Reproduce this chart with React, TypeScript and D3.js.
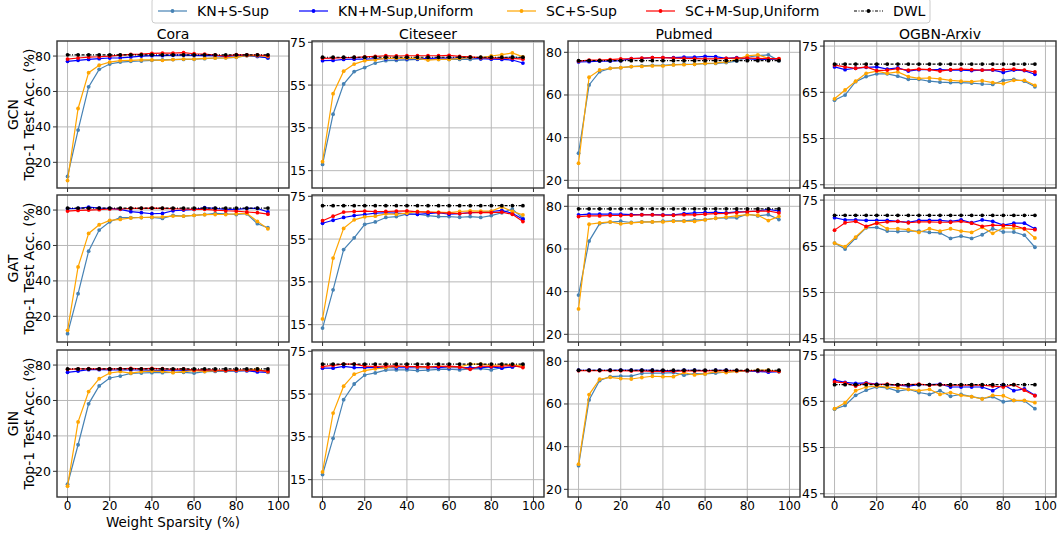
import * as d3 from "d3";

// sparsity levels on the x axis
const sparsity = [0, 5, 10, 15, 20, 25, 30, 35, 40, 45, 50, 55, 60, 65, 70, 75, 80, 85, 90, 95];

const datasets = ["Cora", "Citeseer", "Pubmed", "OGBN-Arxiv"];
const models = ["GCN", "GAT", "GIN"];
const seriesNames = ["KN+S-Sup", "KN+M-Sup,Uniform", "SC+S-Sup", "SC+M-Sup,Uniform", "DWL"];
const seriesColors = ["#4682b4", "#0000ff", "#ffa500", "#ff0000", "#000000"];

const xTicks = [0, 20, 40, 60, 80, 100];
const yTicks = [[20, 40, 60, 80], [15, 35, 55, 75], [20, 40, 60, 80], [45, 55, 65, 75]];
const yLimits = [[5.5, 88.5], [6.9, 75.6], [16.4, 85.3], [44.3, 76.1]];

// ---- GCN ----
const gcnCoraKnS = [12.0, 38.2, 62.6, 72.5, 75.5, 76.6, 77.0, 77.2, 77.6, 77.8, 78.0, 78.1, 78.2, 78.5, 78.9, 79.0, 79.3, 80.2, 79.8, 78.9];
const gcnCoraKnM = [77.0, 77.6, 78.1, 78.5, 78.9, 79.0, 79.4, 80.0, 80.2, 80.2, 80.5, 80.5, 80.4, 80.2, 80.2, 79.8, 80.2, 80.4, 79.8, 79.0];
const gcnCoraScS = [9.7, 50.4, 70.6, 74.8, 76.6, 77.4, 77.6, 77.8, 77.8, 77.6, 78.0, 78.3, 78.3, 78.7, 78.9, 79.0, 79.4, 80.3, 80.2, 79.8];
const gcnCoraScM = [78.3, 78.9, 79.4, 79.6, 80.0, 80.5, 80.9, 81.1, 81.5, 81.7, 81.7, 81.9, 81.3, 81.1, 80.6, 80.0, 80.8, 80.6, 80.6, 80.2];

const gcnCiteKnS = [17.9, 41.4, 55.5, 61.3, 63.2, 65.3, 66.4, 66.5, 66.8, 67.0, 67.0, 67.0, 67.0, 67.0, 67.0, 67.3, 67.6, 67.6, 68.2, 67.6];
const gcnCiteKnM = [66.4, 66.5, 67.0, 67.1, 67.1, 67.3, 67.3, 67.3, 67.3, 67.3, 67.5, 67.6, 67.6, 67.6, 67.8, 67.3, 67.1, 67.0, 66.7, 65.3];
const gcnCiteScS = [19.2, 51.0, 61.5, 64.8, 66.4, 66.8, 67.6, 67.5, 67.6, 67.5, 66.7, 67.0, 67.0, 67.5, 67.8, 67.9, 68.6, 69.2, 70.0, 68.2];
const gcnCiteScM = [67.5, 67.6, 67.8, 67.9, 68.2, 68.4, 68.7, 68.6, 68.7, 68.7, 68.7, 68.7, 68.9, 68.4, 68.2, 67.8, 67.6, 67.6, 67.5, 67.1];

const gcnPubKnS = [32.7, 64.7, 70.9, 72.5, 72.8, 73.3, 73.6, 73.9, 73.9, 74.2, 74.4, 74.4, 74.7, 74.8, 75.2, 75.9, 77.7, 78.4, 78.8, 76.1];
const gcnPubKnM = [75.5, 75.6, 75.9, 75.9, 76.1, 77.0, 77.2, 77.5, 77.5, 77.5, 77.7, 77.7, 78.1, 78.0, 77.2, 77.5, 76.9, 76.7, 76.7, 76.7];
const gcnPubScS = [28.0, 68.3, 71.7, 72.5, 72.8, 73.3, 73.4, 73.6, 73.6, 74.1, 74.2, 74.4, 74.8, 75.0, 75.5, 76.7, 78.4, 78.8, 77.2, 76.9];
const gcnPubScM = [75.9, 76.3, 76.3, 76.6, 76.9, 77.0, 77.3, 77.5, 77.5, 77.3, 77.2, 77.0, 76.9, 76.9, 77.2, 77.3, 77.3, 77.2, 77.0, 77.0];

const gcnArxKnS = [63.3, 64.4, 67.3, 68.4, 69.0, 69.0, 68.5, 67.8, 67.8, 67.4, 67.2, 67.1, 67.1, 67.0, 66.8, 66.7, 67.6, 67.8, 67.4, 66.2];
const gcnArxKnM = [70.5, 69.9, 70.2, 70.4, 70.5, 70.0, 70.3, 69.6, 69.9, 69.9, 69.9, 69.8, 69.8, 69.7, 69.8, 69.8, 69.3, 69.8, 69.7, 68.9];
const gcnArxScS = [63.6, 65.5, 67.4, 69.1, 69.6, 69.1, 69.4, 68.4, 68.0, 68.1, 67.9, 67.6, 67.4, 67.3, 67.5, 67.1, 66.9, 67.6, 67.6, 66.5];
const gcnArxScM = [70.9, 70.5, 70.2, 70.5, 69.7, 69.8, 70.1, 69.8, 70.0, 69.9, 69.6, 69.9, 70.0, 69.9, 69.8, 69.9, 69.9, 70.0, 69.8, 69.4];

const gcnDwl = [80.7, 68.0, 76.1, 71.1];

// ---- GAT ----
const gatCoraKnS = [10.2, 32.8, 56.8, 68.7, 73.4, 75.7, 75.7, 75.8, 75.8, 75.3, 77.0, 76.6, 77.0, 77.5, 78.1, 77.9, 77.5, 77.9, 72.3, 70.0];
const gatCoraKnM = [80.8, 80.9, 81.7, 81.1, 80.9, 80.4, 79.1, 78.5, 77.9, 78.1, 79.6, 80.0, 80.4, 81.3, 80.9, 80.4, 80.4, 80.9, 80.9, 78.9];
const gatCoraScS = [12.1, 47.9, 66.8, 71.7, 74.2, 74.7, 75.5, 75.8, 76.0, 76.2, 76.6, 76.6, 77.0, 77.4, 77.5, 77.5, 77.9, 78.1, 73.6, 69.4];
const gatCoraScM = [79.4, 79.8, 80.0, 80.2, 80.6, 80.6, 80.9, 80.9, 81.1, 80.9, 80.8, 80.6, 80.4, 80.4, 80.0, 79.6, 79.4, 78.9, 78.5, 77.7];

const gatCiteKnS = [13.4, 31.3, 50.1, 55.6, 61.9, 63.0, 65.1, 65.5, 66.6, 66.6, 66.0, 65.5, 65.5, 65.2, 65.5, 65.1, 66.0, 67.3, 69.0, 64.7];
const gatCiteKnM = [62.4, 63.8, 65.1, 66.0, 66.5, 67.1, 67.3, 67.1, 66.8, 66.6, 66.9, 67.3, 66.6, 66.9, 67.3, 67.6, 67.9, 68.4, 67.1, 64.3];
const gatCiteScS = [17.7, 46.1, 60.0, 64.0, 65.4, 65.7, 66.8, 66.6, 67.1, 67.9, 67.6, 67.6, 67.4, 67.9, 68.2, 68.1, 68.1, 70.0, 67.9, 66.3];
const gatCiteScM = [63.6, 65.7, 67.6, 67.9, 68.1, 67.9, 67.9, 68.1, 68.2, 67.7, 67.6, 67.3, 67.1, 66.9, 67.3, 67.4, 67.4, 67.6, 66.6, 63.2];

const gatPubKnS = [38.4, 63.7, 71.9, 72.6, 73.0, 72.4, 72.7, 72.7, 73.0, 73.2, 73.2, 73.6, 73.8, 74.4, 74.6, 74.6, 76.3, 75.5, 76.1, 73.8];
const gatPubKnM = [76.0, 76.3, 76.3, 76.4, 76.3, 76.1, 76.1, 76.1, 76.0, 76.0, 76.6, 76.9, 77.1, 77.2, 76.9, 77.4, 77.5, 77.8, 78.6, 77.8];
const gatPubScS = [31.9, 71.6, 72.2, 72.7, 71.8, 72.2, 72.6, 72.7, 72.7, 73.0, 73.0, 72.9, 73.6, 74.4, 75.0, 75.5, 76.1, 75.8, 73.3, 75.3];
const gatPubScM = [75.2, 75.5, 75.5, 75.7, 75.7, 75.8, 76.0, 76.0, 75.8, 75.8, 76.1, 76.0, 76.3, 76.6, 76.7, 77.1, 77.5, 77.7, 77.8, 76.9];

const gatArxKnS = [65.7, 64.4, 66.8, 69.0, 69.1, 68.3, 68.2, 68.3, 68.3, 68.0, 67.9, 66.7, 67.2, 66.7, 67.5, 68.8, 68.1, 68.1, 67.4, 64.8];
const gatArxKnM = [71.2, 70.7, 70.7, 70.6, 70.6, 70.6, 70.4, 70.2, 70.6, 70.6, 70.6, 70.4, 70.7, 70.1, 70.7, 70.4, 69.6, 70.0, 70.0, 68.8];
const gatArxScS = [65.7, 64.9, 67.0, 69.1, 70.1, 68.8, 68.8, 68.6, 68.0, 68.8, 68.3, 68.8, 68.3, 68.0, 69.1, 67.8, 69.0, 68.9, 68.8, 66.8];
const gatArxScM = [68.5, 70.1, 70.4, 69.3, 70.0, 70.3, 70.4, 70.1, 70.3, 70.3, 70.2, 70.2, 70.4, 70.0, 69.3, 69.6, 69.5, 69.5, 68.8, 68.6];

const gatDwl = [81.1, 70.6, 78.8, 71.7];

// ---- GIN ----
const ginCoraKnS = [12.7, 35.0, 58.1, 68.2, 72.7, 73.8, 75.3, 75.5, 75.7, 75.7, 75.9, 75.9, 75.5, 76.3, 76.4, 76.6, 76.6, 76.8, 77.2, 76.3];
const ginCoraKnM = [75.9, 76.6, 77.4, 77.4, 77.2, 77.2, 77.2, 77.2, 77.0, 77.0, 77.2, 77.0, 77.0, 77.0, 76.8, 76.8, 76.8, 76.8, 76.1, 75.9];
const ginCoraScS = [11.6, 47.9, 65.0, 72.3, 75.5, 76.3, 75.5, 76.3, 76.6, 76.4, 75.7, 76.3, 76.8, 76.4, 76.8, 76.8, 77.0, 77.2, 77.8, 76.1];
const ginCoraScM = [77.6, 77.8, 77.9, 77.8, 77.8, 77.9, 78.1, 77.8, 78.1, 77.9, 77.6, 77.8, 77.2, 77.4, 77.2, 77.0, 77.2, 77.2, 77.0, 76.6];

const ginCiteKnS = [17.4, 34.3, 52.4, 59.7, 63.9, 64.9, 66.2, 66.3, 66.3, 66.0, 66.2, 66.5, 66.6, 66.3, 66.8, 66.9, 66.3, 67.3, 67.7, 68.4];
const ginCiteKnM = [67.1, 67.1, 67.9, 67.4, 67.4, 67.4, 67.4, 67.3, 67.3, 67.3, 67.3, 67.4, 67.3, 67.3, 67.4, 67.4, 67.7, 67.1, 67.7, 68.5];
const ginCiteScS = [18.6, 46.1, 58.7, 64.3, 66.0, 66.8, 67.4, 67.9, 67.9, 67.7, 67.6, 68.1, 67.7, 67.7, 69.0, 69.0, 68.4, 68.7, 68.8, 68.1];
const ginCiteScM = [67.9, 68.4, 69.0, 69.0, 68.1, 67.9, 68.1, 68.2, 67.9, 67.9, 67.7, 67.9, 68.1, 67.7, 66.6, 68.1, 67.9, 68.1, 68.4, 67.4];

const ginPubKnS = [31.1, 61.9, 71.0, 72.8, 73.1, 73.1, 74.4, 74.5, 74.5, 74.7, 73.5, 74.2, 74.1, 74.5, 75.0, 75.3, 75.3, 75.3, 75.3, 75.2];
const ginPubKnM = [75.8, 75.8, 75.8, 75.8, 75.9, 75.8, 75.9, 75.8, 75.6, 75.6, 75.8, 75.8, 75.6, 75.8, 75.8, 75.6, 75.6, 75.3, 74.9, 75.2];
const ginPubScS = [31.8, 64.4, 71.6, 72.5, 71.9, 71.7, 72.4, 73.0, 72.8, 72.8, 74.7, 73.6, 74.1, 75.2, 74.7, 75.3, 75.6, 75.8, 75.9, 75.2];
const ginPubScM = [75.6, 75.6, 75.6, 75.6, 75.6, 75.5, 75.5, 75.3, 75.3, 75.3, 75.5, 75.5, 75.5, 75.6, 75.6, 75.6, 75.6, 75.6, 75.5, 75.3];

const ginArxKnS = [63.3, 64.1, 66.3, 67.4, 68.1, 67.9, 67.2, 67.6, 66.9, 66.5, 67.3, 66.1, 66.5, 66.0, 65.6, 66.0, 64.9, 65.2, 65.1, 63.4];
const ginArxKnM = [69.6, 69.1, 68.9, 69.0, 68.7, 68.6, 68.5, 68.3, 68.6, 68.6, 68.7, 68.1, 68.1, 68.1, 68.1, 67.3, 68.6, 67.3, 67.7, 66.3];
const ginArxScS = [63.4, 64.7, 67.3, 68.1, 68.3, 68.1, 67.9, 67.6, 67.3, 67.6, 66.5, 66.9, 66.3, 66.0, 65.5, 66.3, 66.2, 65.2, 65.2, 64.7];
const ginArxScM = [69.2, 69.0, 68.3, 68.9, 68.6, 68.7, 68.5, 68.6, 68.7, 68.5, 68.6, 68.5, 68.5, 68.5, 68.5, 68.3, 68.1, 68.6, 67.4, 66.2];

const ginDwl = [77.8, 69.0, 75.8, 68.6];

// rows = models, columns = datasets, each cell = [KN+S, KN+M, SC+S, SC+M]
const table = [
  [[gcnCoraKnS, gcnCoraKnM, gcnCoraScS, gcnCoraScM], [gcnCiteKnS, gcnCiteKnM, gcnCiteScS, gcnCiteScM],
   [gcnPubKnS, gcnPubKnM, gcnPubScS, gcnPubScM], [gcnArxKnS, gcnArxKnM, gcnArxScS, gcnArxScM]],
  [[gatCoraKnS, gatCoraKnM, gatCoraScS, gatCoraScM], [gatCiteKnS, gatCiteKnM, gatCiteScS, gatCiteScM],
   [gatPubKnS, gatPubKnM, gatPubScS, gatPubScM], [gatArxKnS, gatArxKnM, gatArxScS, gatArxScM]],
  [[ginCoraKnS, ginCoraKnM, ginCoraScS, ginCoraScM], [ginCiteKnS, ginCiteKnM, ginCiteScS, ginCiteScM],
   [ginPubKnS, ginPubKnM, ginPubScS, ginPubScM], [ginArxKnS, ginArxKnM, ginArxScS, ginArxScM]],
];
const dwlTable = [gcnDwl, gatDwl, ginDwl];

// layout
const W = 1060;
const H = 533;
const colLeft = [57, 312, 568, 824];
const rowTop = [41, 195, 350];
const panelW = 232;
const panelH = 147;
const FONT = "DejaVu Sans, sans-serif";

function Panel({ row, col }: { row: number; col: number }) {
  const x0 = colLeft[col];
  const y0 = rowTop[row];
  const x = d3.scaleLinear().domain([-5, 105]).range([x0, x0 + panelW]);
  const y = d3.scaleLinear().domain(yLimits[col]).range([y0 + panelH, y0]);
  const line = d3
    .line<number>()
    .x((_, i) => x(sparsity[i]))
    .y((d) => y(d));

  const dwl = sparsity.map(() => dwlTable[row][col]);
  const series = [...table[row][col], dwl];
  const isBottom = row === 2;

  return (
    <g>
      <rect x={x0} y={y0} width={panelW} height={panelH} fill="#fff" />
      {/* grid */}
      {xTicks.map((t) => (
        <line key={"gx" + t} x1={x(t)} x2={x(t)} y1={y0} y2={y0 + panelH} stroke="#b8b8b8" strokeWidth={1} />
      ))}
      {yTicks[col].map((t) => (
        <line key={"gy" + t} x1={x0} x2={x0 + panelW} y1={y(t)} y2={y(t)} stroke="#b8b8b8" strokeWidth={1} />
      ))}
      {/* series */}
      {series.map((vals, s) => (
        <g key={s}>
          <path
            d={line(vals) ?? ""}
            fill="none"
            stroke={seriesColors[s]}
            strokeWidth={1.2}
            strokeDasharray={s === 4 ? "3,1.5,1,1.5" : undefined}
          />
          {vals.map((v, i) => (
            <circle key={i} cx={x(sparsity[i])} cy={y(v)} r={1.9} fill={seriesColors[s]} />
          ))}
        </g>
      ))}
      {/* frame */}
      <rect x={x0} y={y0} width={panelW} height={panelH} fill="none" stroke="#333" strokeWidth={1.4} />
      {/* y ticks */}
      {yTicks[col].map((t) => (
        <g key={"ty" + t}>
          <line x1={x0 - 4} x2={x0} y1={y(t)} y2={y(t)} stroke="#333" />
          <text x={x0 - 6} y={y(t)} textAnchor="end" dominantBaseline="central" fontSize={12.5} fontFamily={FONT}>
            {t}
          </text>
        </g>
      ))}
      {/* x ticks */}
      {xTicks.map((t) => (
        <g key={"tx" + t}>
          <line x1={x(t)} x2={x(t)} y1={y0 + panelH} y2={y0 + panelH + 4} stroke="#333" />
          {isBottom && (
            <text x={x(t)} y={y0 + panelH + 9} textAnchor="middle" dominantBaseline="central" fontSize={12} fontFamily={FONT}>
              {t}
            </text>
          )}
        </g>
      ))}
      {row === 0 && (
        <text x={x0 + panelW / 2} y={y0 - 2.5} textAnchor="middle" fontSize={14} fontFamily={FONT}>
          {datasets[col]}
        </text>
      )}
    </g>
  );
}

const legendX = [158, 299, 507, 646, 854];

export default function App() {
  return (
    <svg width={W} height={H} style={{ position: "absolute", left: 0, top: 0, background: "#fff" }}>
      {models.map((m, r) =>
        datasets.map((d, c) => <Panel key={m + d} row={r} col={c} />)
      )}
      {/* row labels */}
      {models.map((m, r) => {
        const cy = rowTop[r] + panelH / 2;
        return (
          <g key={m} fontFamily={FONT} fontSize={14}>
            <text transform={`translate(13,${cy}) rotate(-90)`} textAnchor="middle" dominantBaseline="central">
              {m}
            </text>
            <text transform={`translate(29,${cy}) rotate(-90)`} textAnchor="middle" dominantBaseline="central">
              Top-1 Test Acc. (%)
            </text>
          </g>
        );
      })}
      <text x={colLeft[0] + panelW / 2} y={522} textAnchor="middle" dominantBaseline="central" fontSize={13.5} fontFamily={FONT}>
        Weight Sparsity (%)
      </text>
      {/* legend */}
      <rect x={152} y={-2} width={778} height={25} rx={3} fill="#fff" stroke="#cccccc" />
      {seriesNames.map((name, i) => (
        <g key={name}>
          <line
            x1={legendX[i]}
            x2={legendX[i] + 29}
            y1={11}
            y2={11}
            stroke={seriesColors[i]}
            strokeWidth={1.2}
            strokeDasharray={i === 4 ? "3,1.5,1,1.5" : undefined}
          />
          <circle cx={legendX[i] + 14.5} cy={11} r={1.9} fill={seriesColors[i]} />
          <text x={legendX[i] + 39} y={11} dominantBaseline="central" fontSize={14} fontFamily={FONT}>
            {name}
          </text>
        </g>
      ))}
    </svg>
  );
}
